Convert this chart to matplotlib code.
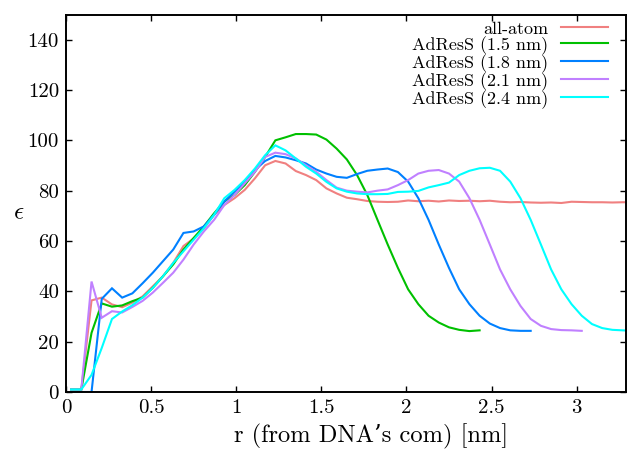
import matplotlib
matplotlib.use("Agg")
import matplotlib.pyplot as plt

plt.rcParams['font.family'] = ['cmr10', 'DejaVu Serif']
plt.rcParams['mathtext.fontset'] = 'cm'
plt.rcParams['axes.formatter.use_mathtext'] = True
plt.rcParams['axes.unicode_minus'] = False

r = [0.03, 0.09, 0.15, 0.21, 0.27, 0.33, 0.39, 0.45, 0.51, 0.57,
     0.63, 0.69, 0.75, 0.81, 0.87, 0.93, 0.99, 1.05, 1.11, 1.17,
     1.23, 1.29, 1.35, 1.41, 1.47, 1.53, 1.59, 1.65, 1.71, 1.77,
     1.83, 1.89, 1.95, 2.01, 2.07, 2.13, 2.19, 2.25, 2.31, 2.37,
     2.43, 2.49, 2.55, 2.61, 2.67, 2.73, 2.79, 2.85, 2.91, 2.97,
     3.03, 3.09, 3.15, 3.21, 3.27, 3.33]

all_atom = [1, 1, 36.4, 37.5, 34.8, 33.7, 35.5, 38, 42, 46,
            51.3, 58, 61, 65, 70.4, 74.3, 77, 80.3, 84.9, 90.1,
            91.8, 90.8, 87.8, 86.2, 84.2, 80.9, 78.9, 77.2, 76.6, 75.9,
            75.6, 75.5, 75.6, 76.1, 75.8, 76, 75.7, 76.1, 75.9, 76,
            75.8, 76, 75.6, 75.4, 75.5, 75.3, 75.2, 75.3, 75.1, 75.6,
            75.5, 75.4, 75.4, 75.3, 75.4, 75.4]

adress_15 = [1, 1, 23.5, 35.2, 33.9, 34.4, 36.1, 37.5, 41.4, 46,
             50.7, 56.6, 61.2, 65.8, 71, 75.7, 78.3, 82.2, 87.5, 93.4,
             100, 101.2, 102.5, 102.5, 102.3, 100.3, 96.7, 92.4, 86.2, 78.3,
             68.4, 58.6, 49.3, 40.8, 34.9, 30.3, 27.6, 25.7, 24.7, 24.2,
             24.5]

adress_18 = [0, 0, 0, 37, 41.2, 37.5, 39.2, 43.2, 47.4, 52,
             56.6, 63.2, 63.8, 65.8, 70.4, 75.7, 79.6, 83.5, 88.2, 91.8,
             93.8, 93.2, 92.1, 90.8, 88.4, 86.8, 85.5, 85.1, 86.6, 87.9,
             88.4, 88.8, 87.4, 83.6, 77, 68.4, 58.6, 49.3, 40.8, 34.9,
             30.3, 27.2, 25.4, 24.5, 24.3, 24.3]

adress_21 = [1, 1, 43.9, 29.5, 32.1, 31.6, 33.8, 36.2, 39.5, 43.4,
             47.4, 52.6, 58.6, 63.8, 68.4, 74.3, 78.3, 82.9, 87.5, 93.4,
             95.1, 94.5, 92.8, 90.1, 87.5, 84.2, 81.2, 80, 79.6, 79.3,
             80, 80.5, 82.2, 84.2, 86.8, 87.9, 88.2, 86.8, 83.6, 77,
             68.4, 58.6, 48.7, 40.8, 34.2, 29, 26.3, 25, 24.6, 24.5,
             24.3]

adress_24 = [1, 1, 6.8, 17.5, 29, 32, 34.5, 37.5, 41.4, 46,
             51.3, 55.9, 60.5, 65.1, 70.4, 77, 80.3, 84.2, 88.8, 94.1,
             98, 96, 92.8, 89.5, 86.8, 83.5, 80.9, 79.6, 78.9, 78.6,
             78.6, 78.7, 79.5, 79.6, 79.9, 81.3, 82.2, 83.2, 86.2, 87.9,
             88.9, 89.1, 87.9, 83.6, 77, 68.4, 58.6, 48.7, 40.8, 34.9,
             30.3, 27, 25.4, 24.7, 24.5, 24.3]

labels = ["all-atom", "AdResS (1.5 nm)", "AdResS (1.8 nm)",
          "AdResS (2.1 nm)", "AdResS (2.4 nm)"]
colors = ["#f08080", "#00c000", "#0080ff", "#c080ff", "#00ffff"]
series = [all_atom, adress_15, adress_18, adress_21, adress_24]

xticks = [0, 0.5, 1, 1.5, 2, 2.5, 3]
xticklabels = ["0", "0.5", "1", "1.5", "2", "2.5", "3"]
yticks = [0, 20, 40, 60, 80, 100, 120, 140]
yticklabels = ["0", "20", "40", "60", "80", "100", "120", "140"]

W, H = 627, 455
fig = plt.figure(figsize=(W / 100, H / 100), dpi=100)
left, right, top, bottom = 66, 626, 14.5, 392
ax = fig.add_axes([left / W, 1 - bottom / H, (right - left) / W, (bottom - top) / H])

for ys, c, lab in zip(series, colors, labels):
    ax.plot(r[:len(ys)], ys, color=c, lw=1.5, label=lab, solid_joinstyle='miter')

ax.set_xlim(0, 3.29)
ax.set_ylim(0, 150)
ax.set_xticks(xticks)
ax.set_xticklabels(xticklabels)
ax.set_yticks(yticks)
ax.set_yticklabels(yticklabels)
ax.tick_params(direction='in', length=4, width=1, top=True, right=True,
               labelsize=15, pad=5, colors='black')
for s in ax.spines.values():
    s.set_linewidth(1.4)

ax_w = right - left
ax_h = bottom - top

ax.set_xlabel("r (from DNA\u2019s com) [nm]", fontsize=17.6)
ax.xaxis.set_label_coords((371 - left) / ax_w, -(424 - bottom) / ax_h)
ax.set_ylabel(r"$\epsilon$", fontsize=18, rotation=0, va='center')
ax.yaxis.set_label_coords(-0.085, 0.475)

leg = ax.legend(loc='upper right',
                bbox_to_anchor=((608 - left) / ax_w, (bottom - 21) / ax_h),
                markerfirst=False, frameon=False, fontsize=13,
                handlelength=2.6, handletextpad=0.7, labelspacing=-0.04,
                borderpad=0, borderaxespad=0)

fig.savefig("out.png", dpi=100)
